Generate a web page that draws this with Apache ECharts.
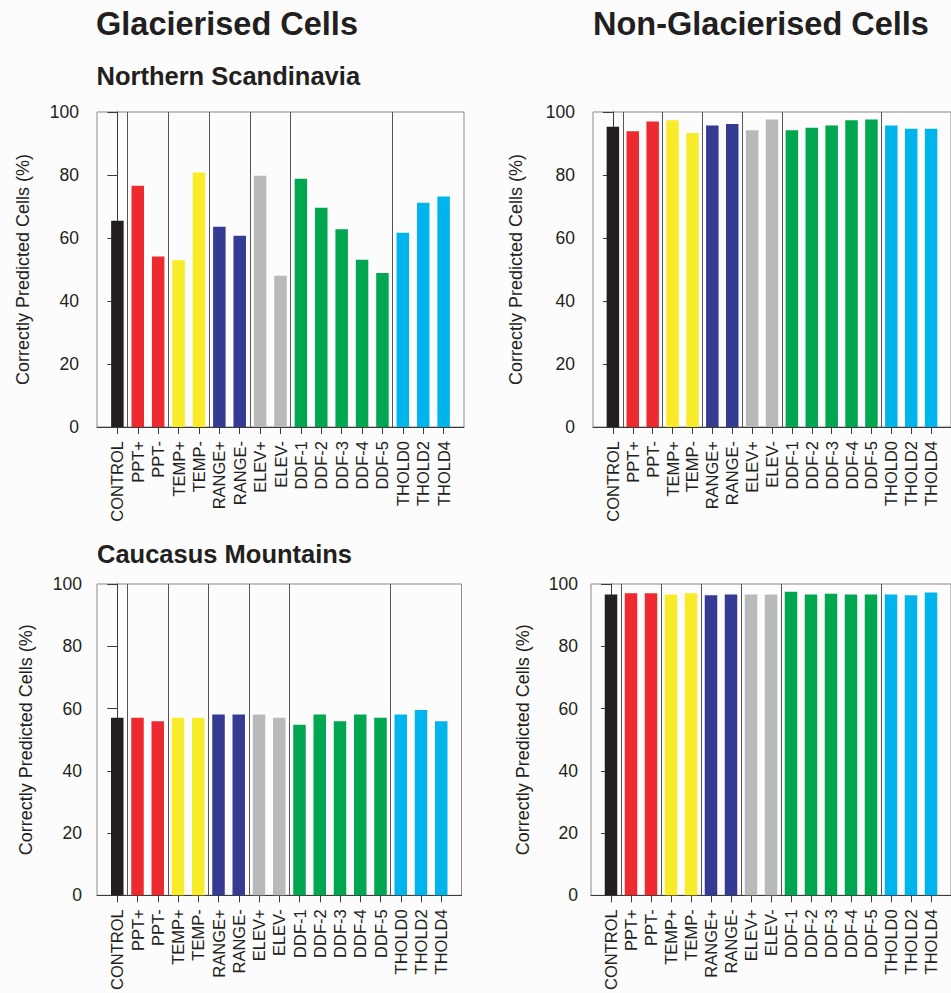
<!DOCTYPE html>
<html>
<head>
<meta charset="utf-8">
<script src="https://cdn.jsdelivr.net/npm/echarts@6/dist/echarts.min.js"></script>
<style>
html,body{margin:0;padding:0;background:#fcfcfc;}
#chart{width:951px;height:993px;}
</style>
</head>
<body>
<div id="chart"></div>
<script>
const categories = ['CONTROL','PPT+','PPT-','TEMP+','TEMP-','RANGE+','RANGE-','ELEV+','ELEV-','DDF-1','DDF-2','DDF-3','DDF-4','DDF-5','THOLD0','THOLD2','THOLD4'];
const barColors = ['#231f20','#ed2a30','#ed2a30','#f7eb2a','#f7eb2a','#353a92','#353a92','#b7bab8','#b7bab8','#00a650','#00a650','#00a650','#00a650','#00a650','#00b5ec','#00b5ec','#00b5ec'];
const groupBoundaries = [0.5, 2.5, 4.5, 6.5, 8.5, 13.5];

const scandiGlacier    = [65.5, 76.6, 54.1, 52.9, 80.8, 63.6, 60.7, 79.8, 48.0, 78.8, 69.6, 62.8, 53.1, 48.9, 61.7, 71.2, 73.2];
const scandiNonGlacier = [95.3, 93.9, 97.0, 97.4, 93.3, 95.7, 96.2, 94.2, 97.6, 94.2, 95.0, 95.7, 97.4, 97.6, 95.7, 94.7, 94.7];
const caucasusGlacier  = [57.0, 57.0, 55.9, 57.0, 57.0, 58.1, 58.1, 58.1, 57.0, 54.8, 58.1, 55.9, 58.1, 57.0, 58.1, 59.5, 55.9];
const caucasusNonGlacier = [96.6, 97.0, 97.0, 96.6, 97.0, 96.4, 96.6, 96.6, 96.6, 97.5, 96.6, 96.9, 96.6, 96.6, 96.6, 96.4, 97.3];

const yAxisName = 'Correctly Predicted Cells (%)';
const titles = ['Glacierised Cells', 'Non-Glacierised Cells'];
const regions = ['Northern Scandinavia', 'Caucasus Mountains'];

const FONT = "'Liberation Sans', Arial, Helvetica, sans-serif";
const TXT = '#231f20';
const AX = '#3a3a3a';

const panels = [
  {grid:{left:97, top:112, width:367, height:315}, data:scandiGlacier, nameGap:65, labelMargin:18},
  {grid:{left:593, top:112, width:363, height:315}, data:scandiNonGlacier, nameGap:68, labelMargin:18},
  {grid:{left:97, top:584, width:364.5, height:315.5}, data:caucasusGlacier, nameGap:62, labelMargin:15},
  {grid:{left:591, top:584, width:362, height:315}, data:caucasusNonGlacier, nameGap:59, labelMargin:13}
];
const idx = categories.map((c,i)=>i);

const option = {
  backgroundColor:'#fcfcfc',
  animation:false,
  textStyle:{fontFamily:FONT, color:TXT},
  graphic:[
    {type:'text', left:96, top:7, style:{text:titles[0], font:"bold 32.5px "+FONT, fill:TXT}},
    {type:'text', left:593, top:7, style:{text:titles[1], font:"bold 32.5px "+FONT, fill:TXT}},
    {type:'text', left:96.5, top:63, style:{text:regions[0], font:"bold 25.5px "+FONT, fill:TXT}},
    {type:'text', left:97, top:541, style:{text:regions[1], font:"bold 25.5px "+FONT, fill:TXT}}
  ],
  grid: panels.map(p=>Object.assign({show:true, borderColor:'#8a8a8a', borderWidth:1, backgroundColor:'transparent'}, p.grid)),
  xAxis: panels.map((p,i)=>({
    type:'value', gridIndex:i, min:-1, max:17, interval:1,
    splitLine:{show:false},
    axisLine:{show:true, lineStyle:{color:AX, width:1}},
    axisTick:{show:true, length:7, lineStyle:{color:AX}, customValues:idx},
    axisLabel:{show:true, rotate:90, margin:14, fontSize:16.5, color:TXT, fontFamily:FONT,
      customValues:idx,
      formatter:(v)=> (v>=0 && v<categories.length) ? categories[v] : ''}
  })),
  yAxis: panels.map((p,i)=>({
    type:'value', gridIndex:i, min:0, max:100, interval:20,
    name:yAxisName, nameLocation:'middle', nameGap:p.nameGap,
    nameTextStyle:{fontSize:18, color:TXT, fontFamily:FONT},
    splitLine:{show:false},
    axisLine:{show:true, lineStyle:{color:AX, width:1}},
    axisTick:{show:true, length:10, lineStyle:{color:AX}},
    axisLabel:{fontSize:17.5, color:TXT, margin:p.labelMargin, fontFamily:FONT}
  })),
  series: panels.map((p,i)=>({
    type:'bar', xAxisIndex:i, yAxisIndex:i, barWidth:12.5,
    data: p.data.map((v,j)=>({value:[j,v], itemStyle:{color:barColors[j]}})),
    markLine:{
      silent:true, symbol:['none','none'],
      label:{show:false},
      lineStyle:{color:'#555', width:1, type:'solid'},
      data: groupBoundaries.map(x=>({xAxis:x}))
    }
  }))
};
const chart = echarts.init(document.getElementById('chart'), null, {renderer:'svg'});
chart.setOption(option);
</script>
</body>
</html>
